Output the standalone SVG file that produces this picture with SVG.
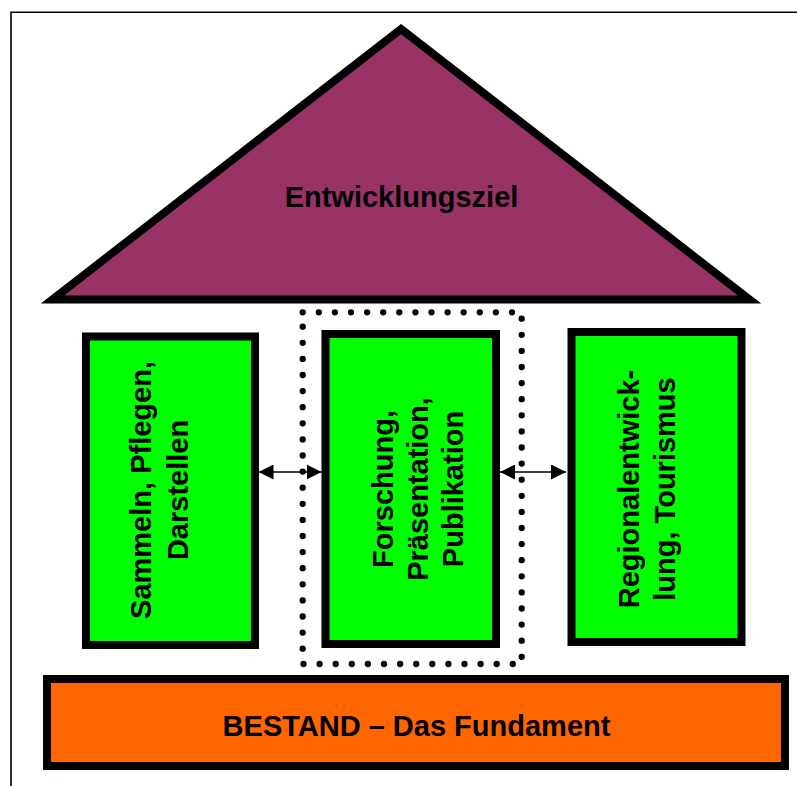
<svg xmlns="http://www.w3.org/2000/svg" width="797" height="786" viewBox="0 0 797 786">
  <style>
    .lbl { font-family: "Liberation Sans", Arial, sans-serif; font-weight: bold; font-size: 29px; fill: #000; text-anchor: middle; }
    .pillar { fill: #00FF00; stroke: #000; stroke-width: 8; }
    .conn { stroke: #000; stroke-width: 1.5; fill: none; marker-start: url(#ah); marker-end: url(#ah); }
  </style>
  <defs>
    <marker id="ah" viewBox="0 0 15 15" refX="15" refY="7.5" markerUnits="userSpaceOnUse" markerWidth="15" markerHeight="15" orient="auto-start-reverse">
      <path d="M0,0 L15,7.5 L0,15 Z" fill="#000"/>
    </marker>
  </defs>
  <rect width="797" height="786" fill="#fff"/>
  <path d="M11,787 V12.3 H798" fill="none" stroke="#000" stroke-width="1.6"/>

  <g id="roof">
    <polygon points="401,29 749.6,299.5 52.4,299.5" fill="#993366" stroke="#000" stroke-width="8"/>
    <text class="lbl" x="401.5" y="207">Entwicklungsziel</text>
  </g>

  <g id="focus-frame">
    <rect x="302.7" y="312.3" width="219" height="351.7" fill="none" stroke="#000" stroke-width="6.3" stroke-linecap="round" stroke-dasharray="0 16.1"/>
  </g>

  <g id="pillar-left">
    <rect class="pillar" x="86" y="336.5" width="169" height="308.5"/>
    <text class="lbl" transform="translate(151,490) rotate(-90)"><tspan x="0" y="0">Sammeln, Pflegen,</tspan><tspan x="0" y="37">Darstellen</tspan></text>
  </g>

  <g id="pillar-middle">
    <rect class="pillar" x="325.5" y="334" width="170.5" height="310"/>
    <text class="lbl" transform="translate(393,489) rotate(-90)"><tspan x="0" y="0">Forschung,</tspan><tspan x="0" y="35">Präsentation,</tspan><tspan x="0" y="70">Publikation</tspan></text>
  </g>

  <g id="pillar-right">
    <rect class="pillar" x="571.5" y="332" width="170" height="310"/>
    <text class="lbl" transform="translate(639,489) rotate(-90)"><tspan x="0" y="0">Regionalentwick-</tspan><tspan x="0" y="36">lung, Tourismus</tspan></text>
  </g>

  <g id="foundation">
    <rect x="47" y="679" width="738" height="87" fill="#FF6600" stroke="#000" stroke-width="8"/>
    <text class="lbl" x="416.5" y="736">BESTAND – Das Fundament</text>
  </g>

  <g id="connectors">
    <line class="conn" x1="258.5" y1="472" x2="321.5" y2="472"/>
    <line class="conn" x1="500" y1="472" x2="566" y2="472"/>
  </g>
</svg>
